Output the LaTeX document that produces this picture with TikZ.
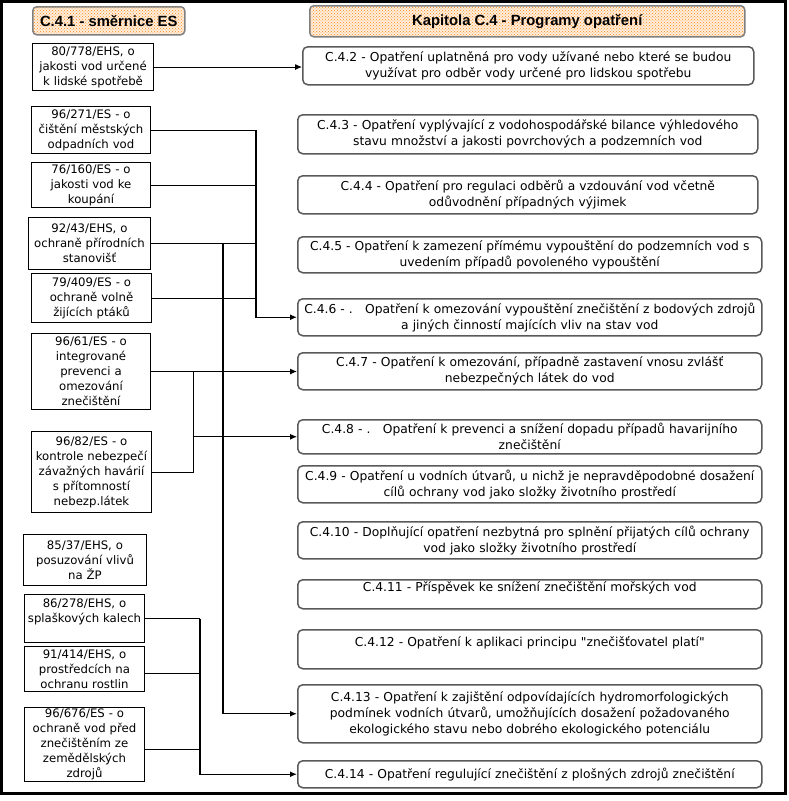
\documentclass[tikz,border=0pt]{standalone}
\usepackage{fontspec}
\setmainfont{DejaVu Sans}[Ligatures=TeXOff]
\newfontfamily\nadpisfont{Liberation Sans}
\usetikzlibrary{patterns,arrows.meta}

\tikzset{
  smernice/.style={draw, line width=1pt, anchor=north west, align=center,
    inner xsep=1.5pt, inner ysep=0pt, text width=117pt,
    font=\fontsize{11.7}{15}\selectfont},
  opatreni/.style={draw=black!65, line width=1.5pt, rounded corners=5pt,
    anchor=north west, align=center, inner xsep=1pt, inner ysep=0pt,
    text width=462pt, font=\fontsize{12.3}{16}\selectfont},
  nadpis/.style={draw=black!50, line width=1.5pt, rounded corners=4pt,
    preaction={fill=orange!14}, pattern=crosshatch dots, pattern color=orange!90,
    anchor=north west, font=\nadpisfont\bfseries\fontsize{14.8}{16}\selectfont},
  spoj/.style={line width=1pt, >={Latex[length=7pt,width=6pt]}},
  kmen/.style={spoj, line width=1.4pt},
}

\begin{document}
\begin{tikzpicture}[x=1pt,y=-1pt]
  \useasboundingbox (0,0) rectangle (789,801);
  \draw[line width=3pt] (1.5,1.5) rectangle (785,793);

  % nadpisy
  \node[nadpis, minimum width=152pt, minimum height=28pt] (smer) at (32,6) {C.4.1 - směrnice ES};
  \node[nadpis, minimum width=435pt, minimum height=31pt] (kap) at (309,5) {Kapitola C.4 - Programy opatření};

  % smernice ES
  \node[smernice, text width=118pt, minimum height=47pt] (d80778) at (32,43) {80/778/EHS, o\\ jakosti vod určené\\ k lidské spotřebě};
  \node[smernice, text width=116pt, minimum height=47pt] (d96271) at (31,106) {96/271/ES - o\\ čištění městských\\ odpadních vod};
  \node[smernice, text width=116pt, minimum height=45pt] (d76160) at (31,162) {76/160/ES - o\\ jakosti vod ke\\ koupání};
  \node[smernice, text width=119pt, minimum height=52pt] (d9243) at (28,217) {92/43/EHS, o\\ ochraně přírodních\\ stanovišť};
  \node[smernice, minimum height=49pt] (d79409) at (31,273) {79/409/ES - o\\ ochraně volně\\ žijících ptáků};
  \node[smernice, text width=116pt, minimum height=76pt] (d9661) at (31,333) {96/61/ES - o\\ integrované\\ prevenci a\\ omezování\\ znečištění};
  \node[smernice, minimum height=81pt] (d9682) at (31,431) {96/82/ES - o\\ kontrole nebezpečí\\ závažných havárií\\ s přítomností\\ nebezp.látek};
  \node[smernice, text width=120pt, minimum height=51pt] (d8537) at (23,534) {85/37/EHS, o\\ posuzování vlivů\\ na ŽP};
  \node[smernice, minimum height=48pt] (d86278) at (24,594) {86/278/EHS, o\\ splaškových kalech\\ ~};
  \node[smernice, minimum height=45pt] (d91414) at (24,646) {91/414/EHS, o\\ prostředcích na\\ ochranu rostlin};
  \node[smernice, minimum height=74pt] (d96676) at (24,707) {96/676/ES - o\\ ochraně vod před\\ znečištěním ze\\ zemědělských\\ zdrojů};

  % programy opatreni
  \node[opatreni, text width=449pt, minimum height=38pt] (c42) at (302,46) {C.4.2 - Opatření uplatněná pro vody užívané nebo které se budou\\ využívat pro odběr vody určené pro lidskou spotřebu};
  \node[opatreni, text width=458pt, minimum height=39pt] (c43) at (297,114) {C.4.3 - Opatření vyplývající z vodohospodářské bilance výhledového\\ stavu množství a jakosti povrchových a podzemních vod};
  \node[opatreni, text width=458pt, minimum height=38pt] (c44) at (297,175) {C.4.4 - Opatření pro regulaci odběrů a vzdouvání vod včetně\\ odůvodnění případných výjimek};
  \node[opatreni, minimum height=36pt] (c45) at (297,236) {C.4.5 - Opatření k zamezení přímému vypouštění do podzemních vod s\\ uvedením případů povoleného vypouštění};
  \node[opatreni, minimum height=37pt] (c46) at (297,298) {C.4.6 -~.~~~Opatření k omezování vypouštění znečištění z bodových zdrojů\\ a jiných činností majících vliv na stav vod};
  \node[opatreni, minimum height=37pt] (c47) at (297,352) {C.4.7 - Opatření k omezování, případně zastavení vnosu zvlášť\\ nebezpečných látek do vod};
  \node[opatreni, minimum height=34pt] (c48) at (297,419) {C.4.8 -~.~~~Opatření k prevenci a snížení dopadu případů havarijního\\ znečištění};
  \node[opatreni, minimum height=37pt] (c49) at (297,465) {C.4.9 - Opatření u vodních útvarů, u nichž je nepravděpodobné dosažení\\ cílů ochrany vod jako složky životního prostředí};
  \node[opatreni, minimum height=37pt] (c410) at (297,521) {C.4.10 - Doplňující opatření nezbytná pro splnění přijatých cílů ochrany\\ vod jako složky životního prostředí};
  \node[opatreni, minimum height=29pt] (c411) at (297,579) {C.4.11 - Příspěvek ke snížení znečištění mořských vod\\ ~};
  \node[opatreni, minimum height=39pt] (c412) at (297,629) {C.4.12 - Opatření k aplikaci principu "znečišťovatel platí"\\ ~};
  \node[opatreni, minimum height=58pt] (c413) at (297,684) {C.4.13 - Opatření k zajištění odpovídajících hydromorfologických\\ podmínek vodních útvarů, umožňujících dosažení požadovaného\\ ekologického stavu nebo dobrého ekologického potenciálu};
  \node[opatreni, minimum height=27pt] (c414) at (297,760) {C.4.14 - Opatření regulující znečištění z plošných zdrojů znečištění};

  % sbernice
  \coordinate (busA) at (256,0);
  \coordinate (busB) at (223,0);
  \coordinate (busC) at (193,0);
  \coordinate (busD) at (200,0);
  \path ([yshift=-4pt]d91414.east) coordinate (z91414);
  \path ([yshift=-5pt]d96676.east) coordinate (z96676);

  \draw[spoj,->] (d80778.east) -- (d80778.east -| c42.west);

  \foreach \d in {d96271,d76160,d9243,d79409}
    \draw[spoj] (\d.east) -- (\d.east -| busA);
  \draw[kmen,->] (d96271.east -| busA) |- (c46.west);
  \draw[kmen,->] (d9243.east -| busB) |- (c413.west);

  \draw[spoj,->] (d9661.east) -- (d9661.east -| c47.west);
  \draw[spoj] (d9661.east -| busC) -- (d9682.east -| busC) -- (d9682.east);
  \draw[spoj,->] (c48.west -| busC) -- (c48.west);

  \draw[spoj] (d86278.east) -- (d86278.east -| busD);
  \draw[spoj] (z91414) -- (z91414 -| busD);
  \draw[spoj] (z96676) -- (z96676 -| busD);
  \draw[kmen,->] (d86278.east -| busD) |- (c414.west);
\end{tikzpicture}
\end{document}
